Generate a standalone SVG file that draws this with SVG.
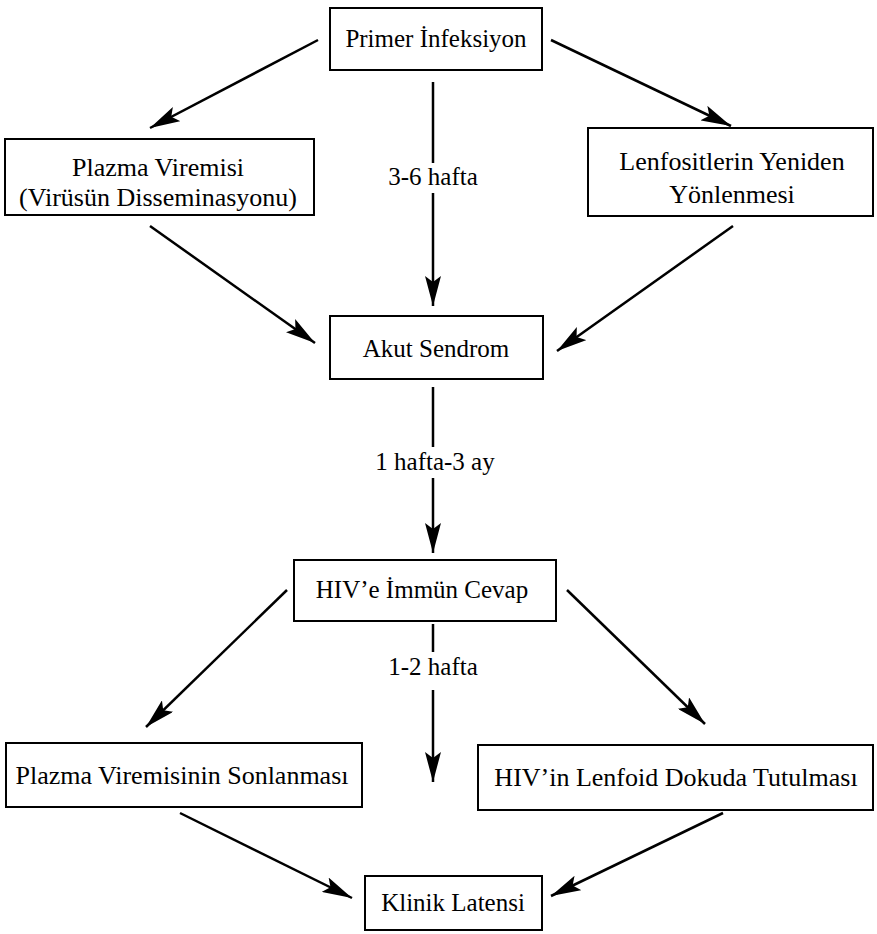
<svg xmlns="http://www.w3.org/2000/svg" width="877" height="934" viewBox="0 0 877 934">
<style>
.box{fill:#fff;stroke:#000;stroke-width:2}
.t{font-family:"Liberation Serif","Times New Roman",serif;font-size:25px;fill:#000;text-anchor:middle}
.l{font-size:26px}
.c{stroke:#000;stroke-width:2.5;fill:none}
</style>
<defs>
<marker id="ah" markerWidth="32" markerHeight="16" refX="30" refY="8" orient="auto" markerUnits="userSpaceOnUse">
<path d="M0,0 L30,8 L0,16 L6,8 Z" fill="#000"/>
</marker>
</defs>
<rect width="877" height="934" fill="#fff"/>
<g id="connectors">
<line class="c" x1="318" y1="40" x2="150" y2="128" marker-end="url(#ah)"/>
<line class="c" x1="551" y1="40" x2="731" y2="126" marker-end="url(#ah)"/>
<line class="c" x1="433" y1="82" x2="433" y2="163"/>
<text class="t" x="433" y="185">3-6 hafta</text>
<line class="c" x1="433" y1="193" x2="433" y2="306" marker-end="url(#ah)"/>
<line class="c" x1="150" y1="226" x2="315" y2="343" marker-end="url(#ah)"/>
<line class="c" x1="733" y1="226" x2="557" y2="351" marker-end="url(#ah)"/>
<line class="c" x1="433" y1="387" x2="433" y2="447"/>
<text class="t" x="435" y="470">1 hafta-3 ay</text>
<line class="c" x1="433" y1="478" x2="433" y2="553" marker-end="url(#ah)"/>
<line class="c" x1="287" y1="590" x2="146" y2="727" marker-end="url(#ah)"/>
<line class="c" x1="567" y1="590" x2="705" y2="724" marker-end="url(#ah)"/>
<line class="c" x1="433" y1="624" x2="433" y2="652"/>
<text class="t" x="433" y="675">1-2 hafta</text>
<line class="c" x1="433" y1="690" x2="433" y2="782" marker-end="url(#ah)"/>
<line class="c" x1="180" y1="813" x2="352" y2="898" marker-end="url(#ah)"/>
<line class="c" x1="723" y1="813" x2="551" y2="896" marker-end="url(#ah)"/>
</g>
<g id="primer">
<rect class="box" x="330" y="8" width="212" height="62"/>
<text class="t" x="436" y="47">Primer İnfeksiyon</text>
</g>
<g id="plazma">
<rect class="box" x="5" y="139" width="309" height="76"/>
<text class="t l" x="158" y="176">Plazma Viremisi</text>
<text class="t l" x="158" y="206">(Virüsün Disseminasyonu)</text>
</g>
<g id="lenfosit">
<rect class="box" x="588" y="128" width="285" height="88"/>
<text class="t l" x="732" y="170">Lenfositlerin Yeniden</text>
<text class="t l" x="732" y="203">Yönlenmesi</text>
</g>
<g id="akut">
<rect class="box" x="330" y="316" width="213" height="63"/>
<text class="t" x="436" y="357">Akut Sendrom</text>
</g>
<g id="immun">
<rect class="box" x="294" y="560" width="262" height="61"/>
<text class="t" x="422" y="598">HIV’e İmmün Cevap</text>
</g>
<g id="sonlanma">
<rect class="box" x="6" y="743" width="356" height="64"/>
<text class="t l" x="182" y="784">Plazma Viremisinin Sonlanması</text>
</g>
<g id="lenfoid">
<rect class="box" x="478" y="745" width="395" height="65"/>
<text class="t l" x="676" y="786">HIV’in Lenfoid Dokuda Tutulması</text>
</g>
<g id="klinik">
<rect class="box" x="365" y="876" width="177" height="54"/>
<text class="t" x="453" y="911">Klinik Latensi</text>
</g>
</svg>
